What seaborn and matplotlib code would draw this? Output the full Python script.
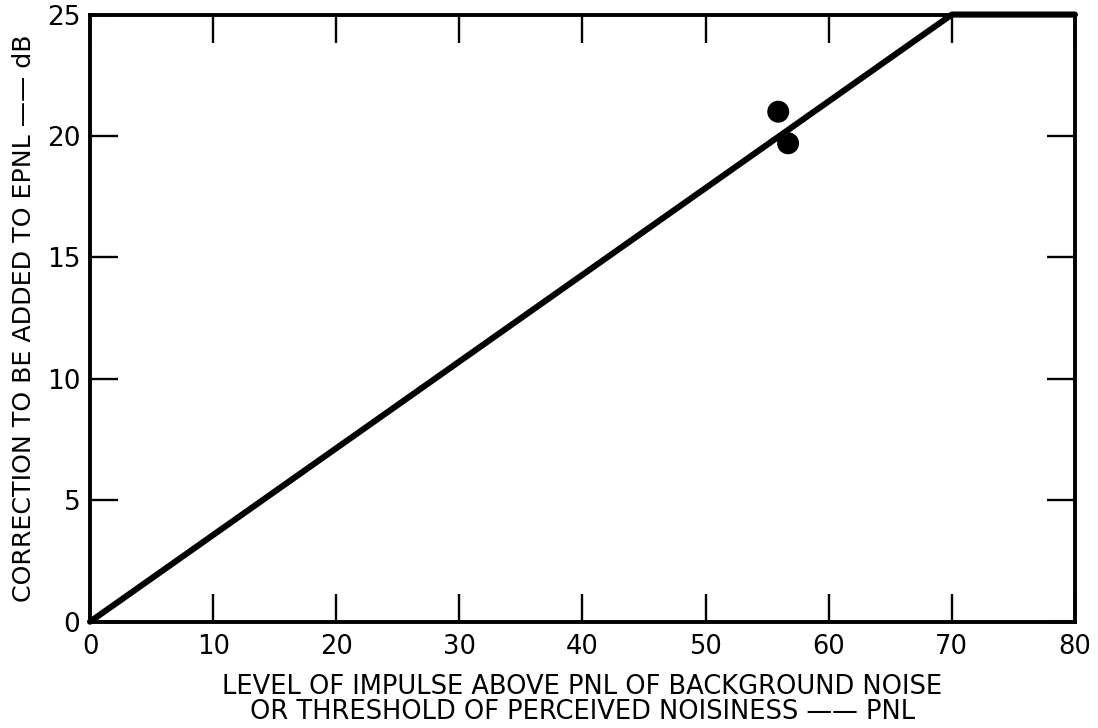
import matplotlib
matplotlib.use("Agg")
import matplotlib.pyplot as plt
import seaborn as sns
import pandas as pd

# Data
line_x = [0, 70, 80]
line_y = [0, 25, 25]
pts_x = [55.9, 56.7]
pts_y = [21.0, 19.7]
xticks = [0, 10, 20, 30, 40, 50, 60, 70, 80]
yticks = [0, 5, 10, 15, 20, 25]
xlabel = "LEVEL OF IMPULSE ABOVE PNL OF BACKGROUND NOISE\nOR THRESHOLD OF PERCEIVED NOISINESS —— PNL"
ylabel = "CORRECTION TO BE ADDED TO EPNL —— dB"

sns.set_theme(style="ticks")
plt.rcParams['font.family'] = ['DejaVu Sans']
plt.rcParams['text.color'] = 'black'
plt.rcParams['axes.labelcolor'] = 'black'
plt.rcParams['xtick.color'] = 'black'
plt.rcParams['ytick.color'] = 'black'

fig = plt.figure(figsize=(10.98, 7.28), dpi=100)
ax = fig.add_axes([0.082, 0.146, 0.897, 0.834])

sns.lineplot(x=line_x, y=line_y, ax=ax, color="black", linewidth=4.4, clip_on=False)
sns.scatterplot(x=pts_x, y=pts_y, ax=ax, color="black", s=250, edgecolor="none", zorder=5)

ax.set_xlim(0, 80)
ax.set_ylim(0, 25)
ax.set_xticks(xticks)
ax.set_yticks(yticks)
ax.set_xticklabels([str(v) for v in xticks], fontsize=18.5)
ax.set_yticklabels([str(v) for v in yticks], fontsize=19)
ax.tick_params(axis="both", direction="in", length=20, width=1.7, color="black",
               labelcolor="black", top=True, right=True)
ax.tick_params(axis="x", pad=9)
ax.tick_params(axis="y", pad=7)
for s in ax.spines.values():
    s.set_linewidth(2.8)
    s.set_color("black")

ax.set_xlabel(xlabel, fontsize=18.5, linespacing=0.95, labelpad=10, color="black")
ax.set_ylabel(ylabel, fontsize=18.2, labelpad=8, color="black")

fig.savefig("out.png", dpi=100)
